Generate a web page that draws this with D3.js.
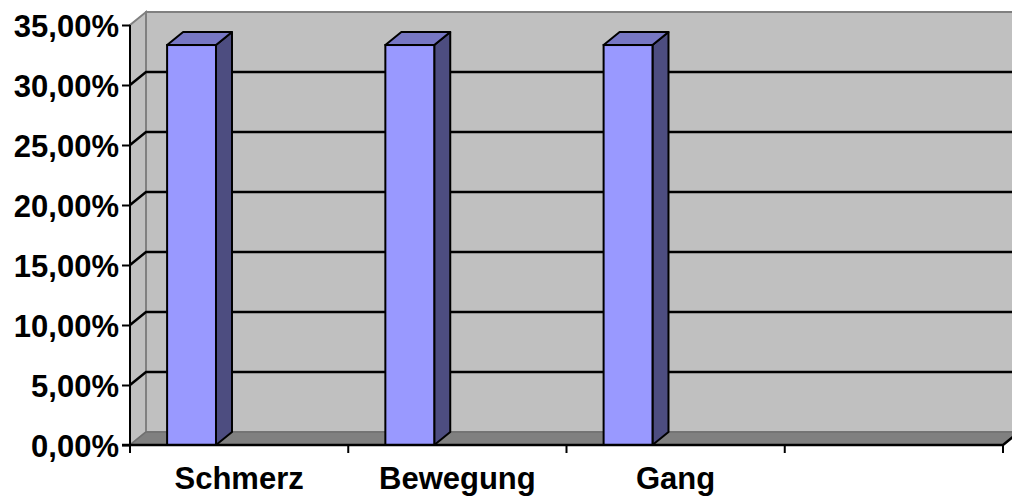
<!DOCTYPE html>
<html>
<head>
<meta charset="utf-8">
<script src="https://cdn.jsdelivr.net/npm/d3@7"></script>
<style>
html,body{margin:0;padding:0;background:#fff;}
svg{display:block;}
text{font-family:"Liberation Sans",Arial,sans-serif;font-weight:bold;fill:#000;}
</style>
</head>
<body>
<svg id="chart" width="1012" height="497"></svg>
<script>
// ---- data ----
const categories = ["Schmerz", "Bewegung", "Gang", ""];
const values = [0.3333, 0.3333, 0.3333, null];
const yTicks = [0, 0.05, 0.10, 0.15, 0.20, 0.25, 0.30, 0.35];

(function () {
// ---- layout ----
const pLeft = 130, pRight = 1003, pTop = 25, pBottom = 445;
const DX = 16, DY = -13; // 3D depth offset

const svg = d3.select("#chart");
const de = d3.formatLocale({decimal: ",", thousands: ".", grouping: [3], currency: ["", "€"]});
const fmt = de.format(".2%");

const x = d3.scaleBand().domain(categories).range([pLeft, pRight]).padding(0);
const y = d3.scaleLinear().domain([0, 0.35]).range([pBottom, pTop]);

const pts = a => a.map(p => p.join(",")).join(" ");

// back wall
svg.append("polygon")
  .attr("points", pts([[pLeft+DX, y(0.35)+DY],[pRight+DX, y(0.35)+DY],[pRight+DX, y(0)+DY],[pLeft+DX, y(0)+DY]]))
  .attr("fill", "#C0C0C0").attr("stroke", "#808080").attr("stroke-width", 2);
// side wall
svg.append("polygon")
  .attr("points", pts([[pLeft, y(0.35)],[pLeft+DX, y(0.35)+DY],[pLeft+DX, y(0)+DY],[pLeft, y(0)]]))
  .attr("fill", "#C0C0C0").attr("stroke", "#808080").attr("stroke-width", 2);
// floor
svg.append("polygon")
  .attr("points", pts([[pLeft, y(0)],[pLeft+DX, y(0)+DY],[pRight+DX, y(0)+DY],[pRight, y(0)]]))
  .attr("fill", "#808080").attr("stroke", "#707070").attr("stroke-width", 1.5);

// gridlines
svg.append("g").selectAll("polyline")
  .data(yTicks.filter(t => t > 0 && t < 0.35))
  .join("polyline")
  .attr("points", t => pts([[pLeft, y(t)],[pLeft+DX, y(t)+DY],[pRight+DX, y(t)+DY]]))
  .attr("fill", "none").attr("stroke", "#000").attr("stroke-width", 2.5);

// bars
const bw = x.bandwidth();
const barOff = bw * 0.17, barW = bw * 0.224;
const bars = svg.append("g").selectAll("g")
  .data(categories.map((c, i) => ({c, v: values[i]})).filter(d => d.v != null))
  .join("g");
bars.each(function(d) {
  const g = d3.select(this);
  const x0 = x(d.c) + barOff, x1 = x0 + barW;
  const y0 = y(0), y1 = y(d.v);
  g.append("polygon") // side
    .attr("points", pts([[x1, y1],[x1+DX, y1+DY],[x1+DX, y0+DY],[x1, y0]]))
    .attr("fill", "#4D4D80").attr("stroke", "#000").attr("stroke-width", 2).attr("stroke-linejoin", "round");
  g.append("polygon") // top
    .attr("points", pts([[x0, y1],[x0+DX, y1+DY],[x1+DX, y1+DY],[x1, y1]]))
    .attr("fill", "#7777C4").attr("stroke", "#000").attr("stroke-width", 2).attr("stroke-linejoin", "round");
  g.append("rect") // front
    .attr("x", x0).attr("y", y1).attr("width", barW).attr("height", y0 - y1)
    .attr("fill", "#9999FF").attr("stroke", "#000").attr("stroke-width", 2);
});

// y axis
const yAxis = svg.append("g").attr("transform", `translate(${pLeft},0)`)
  .call(d3.axisLeft(y).tickValues(yTicks).tickFormat(fmt).tickSize(8).tickPadding(3));
yAxis.select(".domain").attr("stroke", "#000").attr("stroke-width", 2).attr("d", `M0,${y(0.35)}V${y(0)}`);
yAxis.selectAll(".tick line").attr("stroke", "#000").attr("stroke-width", 2);
yAxis.selectAll(".tick text").attr("font-size", 31).attr("font-family", null).attr("dy", "0.36em");

// x axis line
svg.append("path")
  .attr("d", `M${pLeft-8},${y(0)}H${pRight}L${pRight+DX},${y(0)+DY}`)
  .attr("fill", "none").attr("stroke", "#000").attr("stroke-width", 2.5);
// boundary ticks
const bounds = categories.map(c => x(c)).concat([pRight]);
svg.append("g").selectAll("line").data(bounds).join("line")
  .attr("x1", d => d).attr("x2", d => d)
  .attr("y1", y(0)).attr("y2", y(0) + 8)
  .attr("stroke", "#000").attr("stroke-width", 2);
// category labels
svg.append("g").selectAll("text").data(categories).join("text")
  .attr("x", d => x(d) + bw / 2).attr("y", 489)
  .attr("text-anchor", "middle").attr("font-size", 31)
  .text(d => d);
})();
</script>
</body>
</html>
